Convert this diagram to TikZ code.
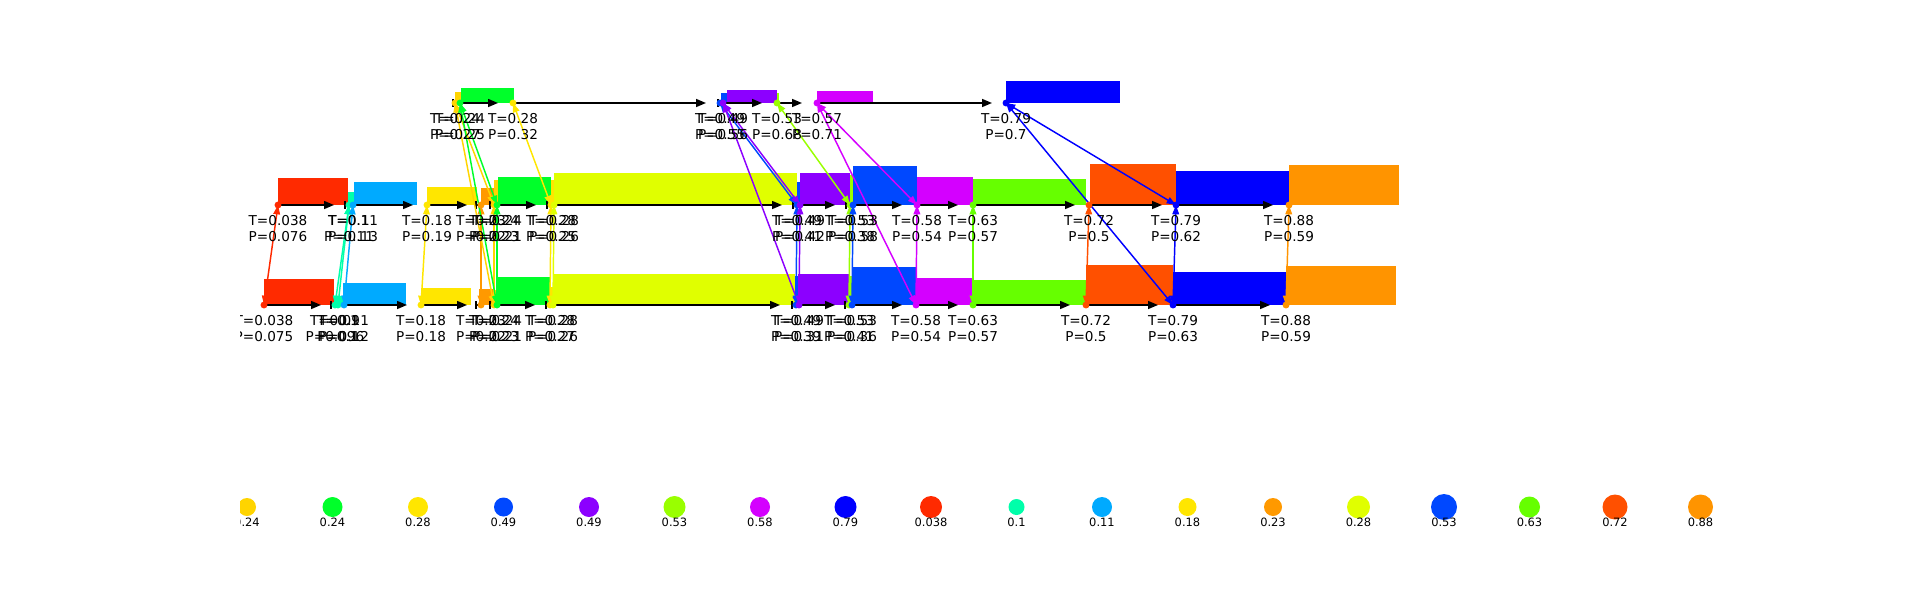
\documentclass[tikz,border=0pt]{standalone}
\usepackage{fontspec}
\setmainfont{DejaVu Sans}
\usetikzlibrary{arrows.meta,calc}
\definecolor{cRed}{HTML}{FF2A00}
\definecolor{cTeal}{HTML}{00FFAA}
\definecolor{cAzure}{HTML}{00AAFF}
\definecolor{cYellow}{HTML}{FFE600}
\definecolor{cOrange}{HTML}{FF9900}
\definecolor{cGold}{HTML}{FFD400}
\definecolor{cGreen}{HTML}{00FF2A}
\definecolor{cChart}{HTML}{E0FF00}
\definecolor{cBlueA}{HTML}{0048FF}
\definecolor{cPurple}{HTML}{8C00FF}
\definecolor{cGreenYel}{HTML}{99FF00}
\definecolor{cMagenta}{HTML}{D400FF}
\definecolor{cGreenB}{HTML}{66FF00}
\definecolor{cOrRed}{HTML}{FF5000}
\definecolor{cBlueB}{HTML}{0000FF}
\definecolor{cOrangeB}{HTML}{FF9400}
\tikzset{
  harr/.style={draw=black, line width=1.1pt, -{Triangle[length=7.5pt,width=6pt]}},
  lnk/.style={line width=1.1pt, {Triangle[length=7pt,width=5pt]}-{Triangle[length=7pt,width=5pt]}},
  evlab/.style={font=\fontsize{10.2}{12}\selectfont, align=center, anchor=north, inner sep=0pt, text=black},
  leglab/.style={font=\fontsize{8.6}{10}\selectfont, anchor=center, inner sep=0pt, text=black},
}
\begin{document}
\begin{tikzpicture}[x=0.75pt,y=-0.75pt]
\useasboundingbox (0,0) rectangle (1920,600);
\begin{scope}
\clip (240,0) rectangle (1920,600);

% ---------- event coordinates ----------
% top row
\coordinate (t1a) at (455,103);
\coordinate (t1b) at (460,103);
\coordinate (t2)  at (513,103);
\coordinate (t3a) at (720,103);
\coordinate (t3b) at (723,103);
\coordinate (t4)  at (777,103);
\coordinate (t5)  at (817,103);
\coordinate (t6)  at (1006,103);
% middle row
\coordinate (m1)  at (278,205);
\coordinate (m2a) at (349,205);
\coordinate (m2c) at (353,205);
\coordinate (m3)  at (427,205);
\coordinate (m4)  at (481,205);
\coordinate (m5a) at (494,205);
\coordinate (m5b) at (497,205);
\coordinate (m6a) at (551,205);
\coordinate (m6b) at (554,205);
\coordinate (m7a) at (797,205);
\coordinate (m7b) at (800,205);
\coordinate (m8a) at (850,205);
\coordinate (m8b) at (853,205);
\coordinate (m9)  at (917,205);
\coordinate (m10) at (973,205);
\coordinate (m11) at (1089,205);
\coordinate (m12) at (1176,205);
\coordinate (m13) at (1289,205);
% bottom row
\coordinate (b1)  at (264,305);
\coordinate (b2a) at (335,305);
\coordinate (b2b) at (338,305);
\coordinate (b2c) at (344,305);
\coordinate (b3)  at (421,305);
\coordinate (b4)  at (481,305);
\coordinate (b5a) at (494,305);
\coordinate (b5b) at (497,305);
\coordinate (b6a) at (550,305);
\coordinate (b6b) at (553,305);
\coordinate (b7a) at (796,305);
\coordinate (b7b) at (799,305);
\coordinate (b8a) at (849,305);
\coordinate (b8b) at (852,305);
\coordinate (b9)  at (916,305);
\coordinate (b10) at (973,305);
\coordinate (b11) at (1086,305);
\coordinate (b12) at (1173,305);
\coordinate (b13) at (1286,305);

% ---------- bars ----------
% top
\fill[cGold]    (455,103) rectangle (461,92);
\fill[cGreen]   (461,103) rectangle (514,88);
\fill[cBlueA]   (721,103) rectangle (727,93);
\fill[cPurple]  (727,103) rectangle (777,90);
\fill[cGreenYel](777,103) rectangle (779,93);
\fill[cMagenta] (817,103) rectangle (873,91);
\fill[cBlueB]   (1006,103) rectangle (1120,81);
% middle
\fill[cRed]     (278,205) rectangle (348,178);
\fill[cTeal]    (348,205) rectangle (354,192);
\fill[cAzure]   (354,205) rectangle (417,182);
\fill[cYellow]  (427,205) rectangle (477,187);
\fill[cOrange]  (481,205) rectangle (494,188);
\fill[cGold]    (494,205) rectangle (498,180);
\fill[cGreen]   (498,205) rectangle (551,177);
\fill[cYellow]  (551,205) rectangle (554,180);
\fill[cChart]   (554,205) rectangle (797,173);
\fill[cBlueA]   (797,205) rectangle (800,182);
\fill[cPurple]  (800,205) rectangle (850,173);
\fill[cGreenYel](850,205) rectangle (853,175);
\fill[cBlueA]   (853,205) rectangle (917,166);
\fill[cMagenta] (917,205) rectangle (973,177);
\fill[cGreenB]  (973,205) rectangle (1086,179);
\fill[cOrRed]   (1090,205) rectangle (1176,164);
\fill[cBlueB]   (1176,205) rectangle (1289,171);
\fill[cOrangeB] (1289,205) rectangle (1399,165);
% bottom
\fill[cRed]     (264,305) rectangle (334,279);
\fill[cTeal]    (334,305) rectangle (343,297);
\fill[cAzure]   (343,305) rectangle (406,283);
\fill[cYellow]  (421,305) rectangle (471,288);
\fill[cOrange]  (479,305) rectangle (494,289);
\fill[cGold]    (494,305) rectangle (497,290);
\fill[cGreen]   (497,305) rectangle (550,277);
\fill[cYellow]  (550,305) rectangle (553,287);
\fill[cChart]   (553,305) rectangle (795,274);
\fill[cBlueA]   (795,305) rectangle (798,276);
\fill[cPurple]  (798,305) rectangle (849,274);
\fill[cGreenYel](849,305) rectangle (852,276);
\fill[cBlueA]   (852,305) rectangle (916,267);
\fill[cMagenta] (916,305) rectangle (973,278);
\fill[cGreenB]  (973,305) rectangle (1086,280);
\fill[cOrRed]   (1086,305) rectangle (1173,265);
\fill[cBlueB]   (1173,305) rectangle (1286,272);
\fill[cOrangeB] (1286,305) rectangle (1396,266);

% ---------- horizontal arrows ----------
\draw[harr] (t1b) -- ($(t2)+(-15,0)$);
\draw[harr] (t2)  -- ($(t3a)+(-14,0)$);
\draw[harr] (t3b) -- ($(t4)+(-15,0)$);
\draw[harr] (t4)  -- ($(t5)+(-15,0)$);
\draw[harr] (t5)  -- ($(t6)+(-14,0)$);

\draw[harr] (m1)  -- ($(m2a)+(-15,0)$);
\draw[harr] (m2c) -- ($(m3)+(-14,0)$);
\draw[harr] (m3)  -- ($(m4)+(-14,0)$);
\draw[harr] (m5b) -- ($(m6a)+(-15,0)$);
\draw[harr] (m6b) -- ($(m7a)+(-15,0)$);
\draw[harr] (m7b) -- ($(m8a)+(-15,0)$);
\draw[harr] (m8b) -- ($(m9)+(-15,0)$);
\draw[harr] (m9)  -- ($(m10)+(-15,0)$);
\draw[harr] (m10) -- ($(m11)+(-14,0)$);
\draw[harr] (m11) -- ($(m12)+(-14,0)$);
\draw[harr] (m12) -- ($(m13)+(-16,0)$);

\draw[harr] (b1)  -- ($(b2a)+(-14,0)$);
\draw[harr] (b2c) -- ($(b3)+(-14,0)$);
\draw[harr] (b3)  -- ($(b4)+(-14,0)$);
\draw[harr] (b5b) -- ($(b6a)+(-15,0)$);
\draw[harr] (b6b) -- ($(b7a)+(-16,0)$);
\draw[harr] (b7b) -- ($(b8a)+(-14,0)$);
\draw[harr] (b8b) -- ($(b9)+(-14,0)$);
\draw[harr] (b9)  -- ($(b10)+(-15,0)$);
\draw[harr] (b10) -- ($(b11)+(-16,0)$);
\draw[harr] (b11) -- ($(b12)+(-15,0)$);
\draw[harr] (b12) -- ($(b13)+(-16,0)$);

% small ticks (zero-length arrows)
\foreach \x/\y in {453/103,718/103,
                   345/205,476/205,490/205,547/205,793/205,846/205,
                   331/305,476/305,490/305,546/305,792/305,845/305}{
  \fill[black] (\x-1,\y-4) rectangle (\x+1.2,\y+4);
  \draw[black,line width=1pt] (\x,\y) -- (\x+3,\y);
}

% ---------- links ----------
\draw[lnk,cRed]      (b1)  -- (m1);
\draw[lnk,cTeal]     (b2a) -- (m2a);
\draw[lnk,cTeal]     (b2b) -- (m2a);
\draw[lnk,cAzure]    (b2c) -- (m2c);
\draw[lnk,cYellow]   (b3)  -- (m3);
\draw[lnk,cOrange]   (b4)  -- (m4);
\draw[lnk,cGold]     (b5a) -- (m5a);
\draw[lnk,cGreen]    (b5b) -- (m5b);
\draw[lnk,cGold]     (t1a) -- (m5a);
\draw[lnk,cGold]     (t1a) -- (b5a);
\draw[lnk,cGreen]    (t1b) -- (m5b);
\draw[lnk,cGreen]    (t1b) -- (b5b);
\draw[lnk,cYellow]   (t2)  -- (m6a);
\draw[lnk,cYellow]   (b6a) -- (m6a);
\draw[lnk,cChart]    (b6b) -- (m6b);
\draw[lnk,cBlueA]    (t3a) -- (m7a);
\draw[lnk,cPurple]   (t3b) -- (m7b);
\draw[lnk,cPurple]   (t3b) -- (b7b);
\draw[lnk,cBlueA]    (b7a) -- (m7a);
\draw[lnk,cPurple]   (b7b) -- (m7b);
\draw[lnk,cGreenYel] (t4)  -- (m8a);
\draw[lnk,cGreenYel] (b8a) -- (m8a);
\draw[lnk,cBlueA]    (b8b) -- (m8b);
\draw[lnk,cMagenta]  (t5)  -- (m9);
\draw[lnk,cMagenta]  (t5)  -- (b9);
\draw[lnk,cMagenta]  (b9)  -- (m9);
\draw[lnk,cGreenB]   (b10) -- (m10);
\draw[lnk,cOrRed]    (b11) -- (m11);
\draw[lnk,cBlueB]    (b12) -- (m12);
\draw[lnk,cBlueB]    (t6)  -- (m12);
\draw[lnk,cBlueB]    (t6)  -- (b12);
\draw[lnk,cOrangeB]  (b13) -- (m13);

% ---------- event dots ----------
\foreach \p/\c in {t1a/cGold,t1b/cGreen,t2/cYellow,t3a/cBlueA,t3b/cPurple,t4/cGreenYel,t5/cMagenta,t6/cBlueB,
  m1/cRed,m2a/cTeal,m2c/cAzure,m3/cYellow,m4/cOrange,m5a/cGold,m5b/cGreen,m6a/cYellow,m6b/cChart,
  m7a/cBlueA,m7b/cPurple,m8a/cGreenYel,m8b/cBlueA,m9/cMagenta,m10/cGreenB,m11/cOrRed,m12/cBlueB,m13/cOrangeB,
  b1/cRed,b2a/cTeal,b2b/cTeal,b2c/cAzure,b3/cYellow,b4/cOrange,b5a/cGold,b5b/cGreen,b6a/cYellow,b6b/cChart,
  b7a/cBlueA,b7b/cPurple,b8a/cGreenYel,b8b/cBlueA,b9/cMagenta,b10/cGreenB,b11/cOrRed,b12/cBlueB,b13/cOrangeB}{
  \fill[\c] (\p) circle[radius=2.6pt];
}

% ---------- event labels ----------
\foreach \p/\tv/\pv in {t1a/0.24/0.27,t1b/0.24/0.25,t2/0.28/0.32,t3a/0.49/0.55,t3b/0.49/0.56,t4/0.53/0.68,t5/0.57/0.71,t6/0.79/0.7,
  m1/0.038/0.076,m2a/0.1/0.11,m2c/0.11/0.13,m3/0.18/0.19,m4/0.23/0.22,m5a/0.24/0.23,m5b/0.24/0.21,m6a/0.28/0.25,m6b/0.28/0.26,
  m7a/0.49/0.41,m7b/0.49/0.42,m8a/0.53/0.38,m8b/0.53/0.58,m9/0.58/0.54,m10/0.63/0.57,m11/0.72/0.5,m12/0.79/0.62,m13/0.88/0.59,
  b1/0.038/0.075,b2a/0.09/0.096,b2b/0.1/0.1,b2c/0.11/0.12,b3/0.18/0.18,b4/0.23/0.22,b5a/0.24/0.23,b5b/0.24/0.21,b6a/0.28/0.27,b6b/0.28/0.26,
  b7a/0.49/0.39,b7b/0.49/0.31,b8a/0.53/0.41,b8b/0.53/0.36,b9/0.58/0.54,b10/0.63/0.57,b11/0.72/0.5,b12/0.79/0.63,b13/0.88/0.59}{
  \node[evlab] (lab-\p) at ($(\p)+(0,10)$) {T=\tv\\P=\pv};
}

% ---------- legend ----------
\foreach \i/\c/\r/\v in {0/cGold/9/0.24,1/cGreen/10/0.24,2/cYellow/10/0.28,3/cBlueA/9.5/0.49,4/cPurple/10/0.49,
  5/cGreenYel/11/0.53,6/cMagenta/10/0.58,7/cBlueB/11/0.79,8/cRed/11/0.038,9/cTeal/8/0.1,10/cAzure/10/0.11,
  11/cYellow/9/0.18,12/cOrange/9/0.23,13/cChart/11.5/0.28,14/cBlueA/13/0.53,15/cGreenB/10.5/0.63,
  16/cOrRed/12.5/0.72,17/cOrangeB/12.5/0.88}{
  \coordinate (leg\i) at (247+85.5*\i,507);
  \fill[\c] (leg\i) circle[radius=0.75*\r pt];
  \node[leglab] (legl\i) at (247+85.5*\i,522) {\v};
}
\end{scope}
\end{tikzpicture}
\end{document}
